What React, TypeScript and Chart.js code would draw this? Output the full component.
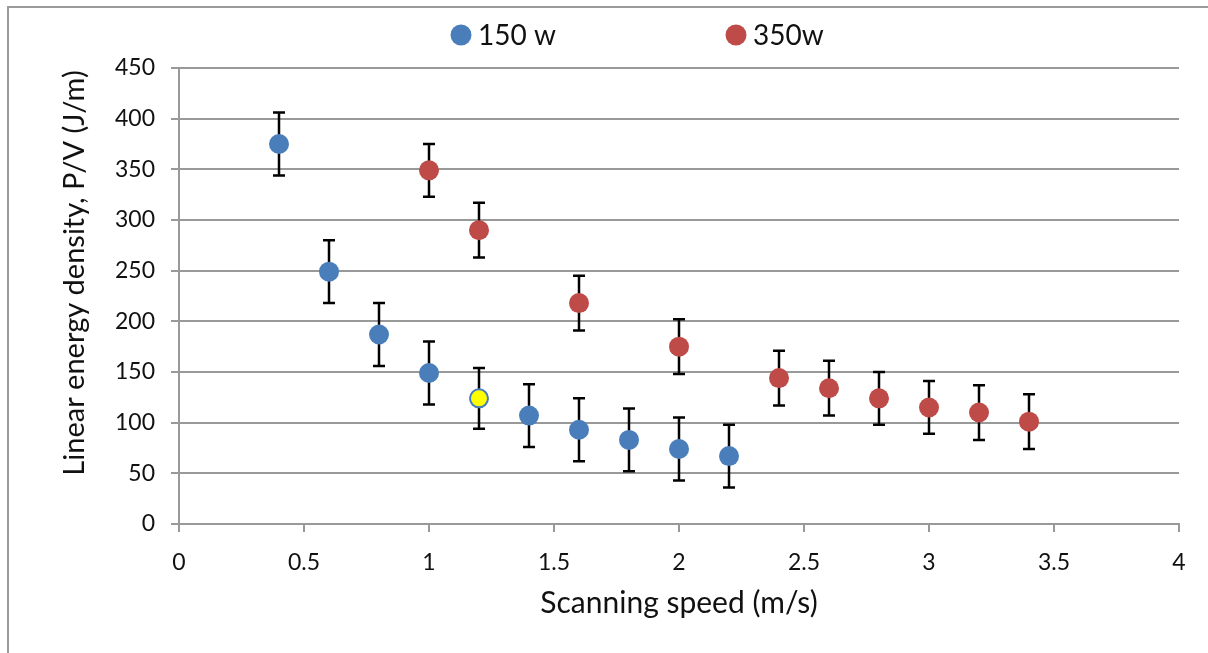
import React, { useEffect, useRef } from "react";
import { Chart, registerables } from "chart.js";

Chart.register(...registerables);

// ---- data ----
const speed150 = [0.4, 0.6, 0.8, 1.0, 1.2, 1.4, 1.6, 1.8, 2.0, 2.2];
const energy150 = [375, 249, 187, 149, 124, 107, 93, 83, 74, 67];
const err150 = [31, 31, 31, 31, 30, 31, 31, 31, 31, 31];

const speed350 = [1.0, 1.2, 1.6, 2.0, 2.4, 2.6, 2.8, 3.0, 3.2, 3.4];
const energy350 = [349, 290, 218, 175, 144, 134, 124, 115, 110, 101];
const err350 = [26, 27, 27, 27, 27, 27, 26, 26, 27, 27];

const seriesLabels = ["150 w", "350w"];
const highlightIndex150 = 4; // yellow point

const xTitle = "Scanning speed (m/s)";
const yTitle = "Linear energy density, P/V (J/m)";

const BLUE = "#4a7ebb";
const RED = "#be4b48";
const GRID = "#999999";
const FONT = "Lato";

const errorBarPlugin = {
  id: "errorBars",
  beforeDatasetsDraw(chart: any) {
    const { ctx } = chart;
    const xs = chart.scales.x;
    const ys = chart.scales.y;
    const sets = [
      { sx: speed150, sy: energy150, se: err150 },
      { sx: speed350, sy: energy350, se: err350 },
    ];
    ctx.save();
    ctx.strokeStyle = "#000";
    ctx.lineWidth = 2.5;
    sets.forEach((s) => {
      s.sx.forEach((xv, i) => {
        const px = xs.getPixelForValue(xv);
        const top = ys.getPixelForValue(s.sy[i] + s.se[i]);
        const bot = ys.getPixelForValue(s.sy[i] - s.se[i]);
        ctx.beginPath();
        ctx.moveTo(px, top);
        ctx.lineTo(px, bot);
        ctx.moveTo(px - 6, top);
        ctx.lineTo(px + 6, top);
        ctx.moveTo(px - 6, bot);
        ctx.lineTo(px + 6, bot);
        ctx.stroke();
      });
    });
    ctx.restore();
  },
};

const decorPlugin = {
  id: "decor",
  afterDraw(chart: any) {
    const { ctx, chartArea } = chart;
    ctx.save();
    // outer frame (top and left edges)
    ctx.strokeStyle = "#9a9a9a";
    ctx.lineWidth = 2;
    ctx.beginPath();
    ctx.moveTo(8, 653);
    ctx.lineTo(8, 7);
    ctx.lineTo(1208, 7);
    ctx.stroke();

    // legend
    ctx.font = `28px ${FONT}`;
    ctx.textBaseline = "alphabetic";
    ctx.textAlign = "left";
    const legendItems = [
      { cx: 461, color: BLUE, label: seriesLabels[0] },
      { cx: 736, color: RED, label: seriesLabels[1] },
    ];
    legendItems.forEach((it) => {
      ctx.fillStyle = it.color;
      ctx.beginPath();
      ctx.arc(it.cx, 35, 10.5, 0, Math.PI * 2);
      ctx.fill();
      ctx.fillStyle = "#111";
      ctx.fillText(it.label, it.cx + 17, 45);
    });

    // axis titles
    ctx.fillStyle = "#111";
    ctx.textAlign = "center";
    ctx.font = `30px ${FONT}`;
    ctx.fillText(xTitle, (chartArea.left + chartArea.right) / 2, 613);
    ctx.font = `29px ${FONT}`;
    ctx.translate(84, 273);
    ctx.rotate(-Math.PI / 2);
    ctx.fillText(yTitle, 0, 0);
    ctx.restore();
  },
};

export default function App() {
  const ref = useRef<HTMLCanvasElement>(null);
  useEffect(() => {
    if (!ref.current) return;
    const pointBg = energy150.map((_, i) => (i === highlightIndex150 ? "#ffff00" : BLUE));
    const pointBw = energy150.map((_, i) => (i === highlightIndex150 ? 2 : 0));
    const pointR = energy150.map((_, i) => (i === highlightIndex150 ? 9 : 10));
    const chart = new Chart(ref.current, {
      type: "scatter",
      data: {
        datasets: [
          {
            label: seriesLabels[0],
            data: speed150.map((x, i) => ({ x, y: energy150[i] })),
            backgroundColor: pointBg,
            pointBackgroundColor: pointBg,
            pointBorderColor: BLUE,
            pointBorderWidth: pointBw,
            pointRadius: pointR,
            pointHoverRadius: pointR,
          },
          {
            label: seriesLabels[1],
            data: speed350.map((x, i) => ({ x, y: energy350[i] })),
            backgroundColor: RED,
            pointBackgroundColor: RED,
            pointBorderWidth: 0,
            pointRadius: 10,
            pointHoverRadius: 10,
          },
        ],
      },
      options: {
        responsive: false,
        animation: false,
        events: [],
        layout: { padding: { left: 0, right: 29, top: 68, bottom: 0 } },
        plugins: {
          legend: { display: false },
          tooltip: { enabled: false },
        },
        scales: {
          x: {
            type: "linear",
            min: 0,
            max: 4,
            afterFit: (s: any) => {
              s.height = 129;
            },
            ticks: {
              stepSize: 0.5,
              padding: 17,
              color: "#111",
              font: { family: FONT, size: 23 },
              callback: (v: any) => String(v),
            },
            grid: {
              drawOnChartArea: false,
              drawTicks: true,
              tickLength: 8,
              color: GRID,
              lineWidth: 2,
            },
            border: { display: true, color: GRID, width: 2 },
          },
          y: {
            type: "linear",
            min: 0,
            max: 450,
            afterFit: (s: any) => {
              s.width = 179;
            },
            ticks: {
              stepSize: 50,
              padding: 16,
              color: "#111",
              font: { family: FONT, size: 23 },
            },
            grid: {
              drawOnChartArea: true,
              drawTicks: true,
              tickLength: 8,
              color: GRID,
              lineWidth: 2,
            },
            border: { display: true, color: GRID, width: 2 },
          },
        },
      },
      plugins: [errorBarPlugin, decorPlugin],
    } as any);
    return () => chart.destroy();
  }, []);
  return (
    <div style={{ position: "fixed", left: 0, top: 0, width: 1208, height: 653, background: "#fff" }}>
      <canvas ref={ref} width={1208} height={653} style={{ display: "block" }} />
    </div>
  );
}
